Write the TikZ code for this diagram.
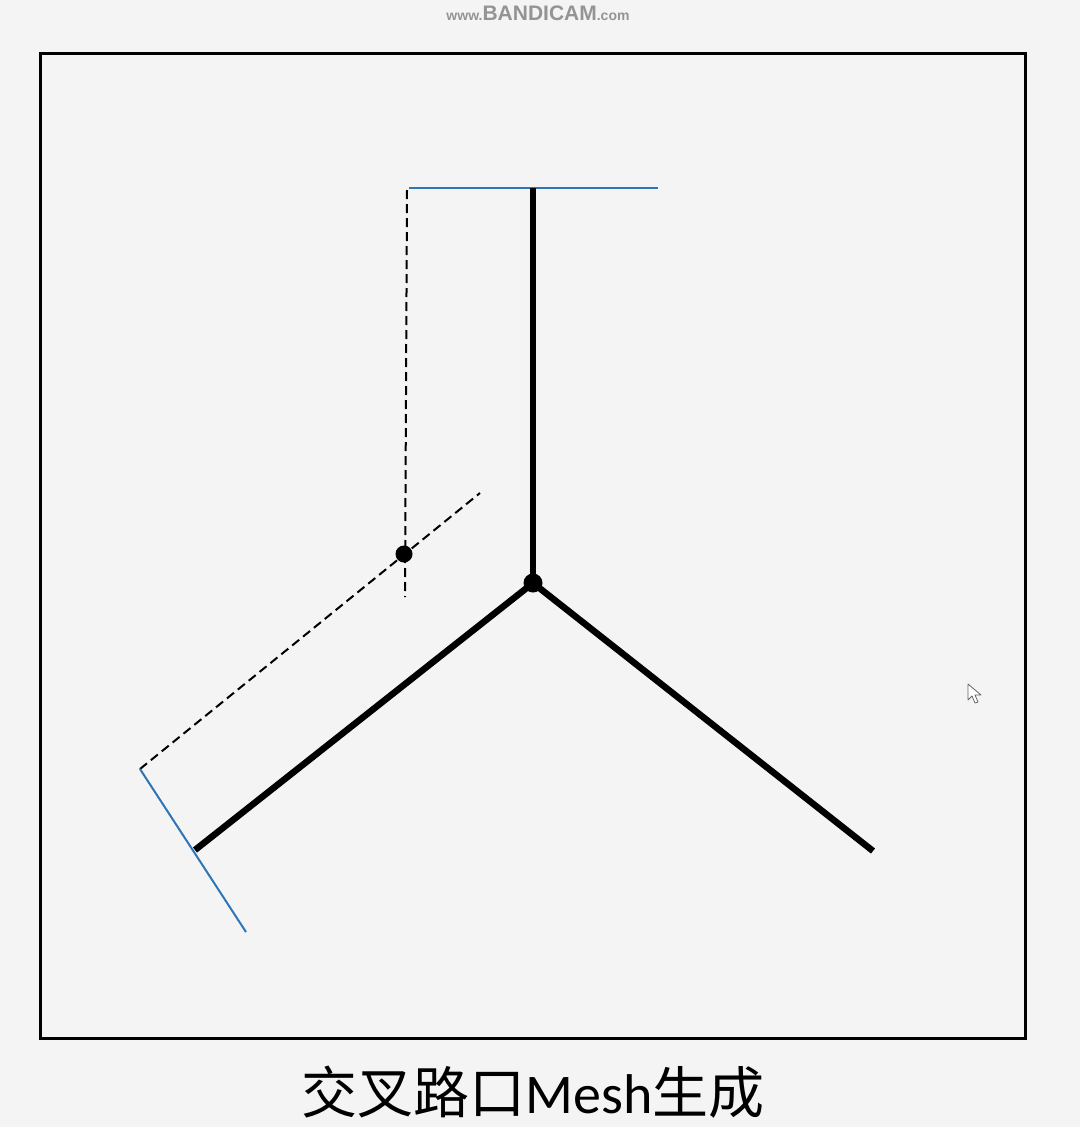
\documentclass[tikz,border=0pt]{standalone}
\usepackage{fontspec}
\setmainfont{Carlito}
\newfontfamily\cjk{Noto Sans CJK SC}
\newfontfamily\wmfont{Liberation Sans}
\definecolor{bg}{HTML}{F4F4F4}
\definecolor{bl}{HTML}{2E75B6}
\begin{document}
\begin{tikzpicture}[x=1pt,y=-1pt,
  thickline/.style={line width=6.5pt},
  blueline/.style={bl, line width=2pt},
  dashline/.style={line width=2pt, dash pattern=on 9pt off 5pt},
  dotnode/.style={circle, fill=black, inner sep=0pt, minimum size=19pt}]
\fill[bg] (0,0) rectangle (1080,1127);
\useasboundingbox (0,0) rectangle (1080,1127);
\draw[line width=3pt] (40,53) rectangle (1025,1038);
% coordinates
\coordinate (top) at (533,188);
\coordinate (bt1) at (409,188);
\coordinate (bt2) at (658,188);
\coordinate (le) at (195,850);
\coordinate (re) at (873,851);
\coordinate (bl1) at (140,769);
\coordinate (bl2) at (246,932);
\coordinate (dv1) at (407,190);
\coordinate (dv2) at (405,597);
\coordinate (dd2) at (480,493);
\node[dotnode] (C) at (533,583) {};
\node[dotnode, minimum size=17pt] (P) at (404,554) {};
% dashed
\draw[dashline] (dv1) -- (dv2);
\draw[dashline] (bl1) -- (dd2);
% blue
\draw[blueline] (bt1) -- (bt2);
\draw[blueline] (bl1) -- (bl2);
% thick
\draw[thickline] (top) -- (C.center);
\draw[thickline] (C.center) -- (le);
\draw[thickline] (C.center) -- (re);
% title
\node[anchor=base, inner sep=0pt] (title) at (533,1113)
  {\fontsize{56}{60}\selectfont{\cjk 交叉路口}Mesh{\cjk 生成}};
% watermark
\node[inner sep=0pt, text=black!42] (wm) at (538,13)
  {\wmfont\bfseries{\fontsize{14}{14}\selectfont www.}{\fontsize{21}{21}\selectfont BANDICAM}{\fontsize{14}{14}\selectfont .com}};
% cursor
\draw[black!60, fill=white, line width=0.8pt, line join=round]
  (968,684) -- (968,700) -- (972,696) -- (975,703) -- (978,702) -- (975,695) -- (981,695) -- cycle;
\end{tikzpicture}
\end{document}
